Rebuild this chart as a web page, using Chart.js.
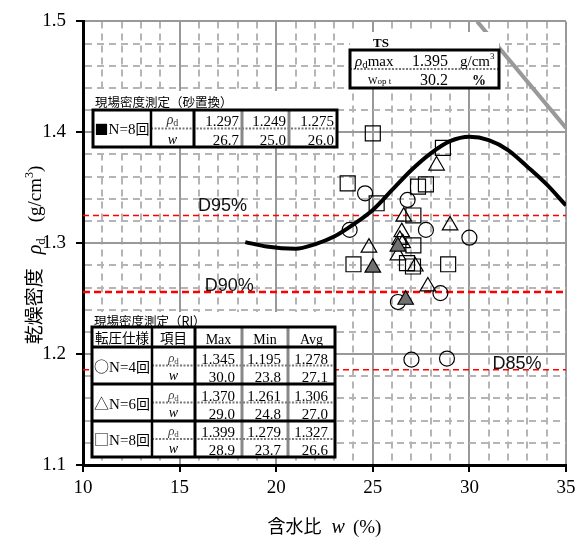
<!DOCTYPE html>
<html>
<head>
<meta charset="utf-8">
<script src="https://cdn.jsdelivr.net/npm/chart.js@4.4.1/dist/chart.umd.min.js"></script>
<style>
html, body { margin: 0; padding: 0; background: #fff; }
#wrap { width: 588px; height: 540px; position: relative; }
</style>
</head>
<body>
<div id="wrap"><canvas id="chart"></canvas></div>
<script>
// 締固め曲線
const curveW   = [18.4, 19.5, 21.0, 22.0, 23.0, 24.0, 25.0, 26.0, 27.0, 28.0, 29.0, 30.0, 31.0, 32.0, 33.0, 34.0, 35.0];
const curveRho = [1.301, 1.297, 1.295, 1.299, 1.306, 1.317, 1.330, 1.348, 1.366, 1.381, 1.392, 1.396, 1.393, 1.384, 1.369, 1.353, 1.334];

// ゼロ空気間隙曲線（右上の灰色線）
const zavW   = [30.4, 35.0];
const zavRho = [1.500, 1.404];

// RI 測定 N=4回（○）
const n4W   = [24.6, 26.8, 23.8, 27.75, 30.0, 28.5, 26.3, 27.0, 28.84];
const n4Rho = [1.345, 1.339, 1.312, 1.312, 1.305, 1.255, 1.247, 1.195, 1.196];

// RI 測定 N=6回（△）
const n6W   = [28.3, 26.6, 29.0, 26.5, 26.4, 26.55, 26.3, 24.8, 27.2, 27.85];
const n6Rho = [1.370, 1.324, 1.316, 1.310, 1.303, 1.300, 1.289, 1.296, 1.279, 1.261];

// RI 測定 N=8回（□）
const n8W   = [25.0, 28.63, 23.7, 27.34, 27.75, 25.2, 27.1, 27.1, 24.0, 26.77, 27.08, 28.9];
const n8Rho = [1.399, 1.386, 1.354, 1.351, 1.353, 1.336, 1.325, 1.298, 1.281, 1.282, 1.279, 1.281];

// 砂置換 N=8回（■）
const sandW   = [25.0, 26.3, 26.7];
const sandRho = [1.278, 1.297, 1.249];

// 管理基準線
const dLabels = ['D95%', 'D90%', 'D85%'];
const dValues = [1.325, 1.256, 1.186];
const dLabelW = [15.95, 16.3, 31.2];

// 表の値
const tsRows = [['1.395', 'g/cm'], ['30.2', '%']];
const sandRhoRow = ['1.297', '1.249', '1.275'];
const sandWRow   = ['26.7', '25.0', '26.0'];
const riHeader = ['Max', 'Min', 'Avg'];
const riLabels = ['○', '△', '□'];
const riCounts = ['N=4', 'N=6', 'N=8'];
const riRho = [['1.345', '1.195', '1.278'], ['1.370', '1.261', '1.306'], ['1.399', '1.279', '1.327']];
const riW   = [['30.0', '23.8', '27.1'], ['29.0', '24.8', '27.0'], ['28.9', '23.7', '26.6']];

const SERIF = '"Liberation Serif", "Times New Roman", serif';
const SANS = '"Liberation Sans", Arial, sans-serif';
const CJK = '"Noto Sans CJK JP", sans-serif';

const pts = (xs, ys) => xs.map((x, i) => ({x: x, y: ys[i]}));
const isMajorX = v => Math.abs(v / 5 - Math.round(v / 5)) < 1e-6;
const isMajorY = v => Math.abs(v * 10 - Math.round(v * 10)) < 1e-6;

// 複数フォントの文字列を描く
function runsWidth(ctx, runs) {
    let w = 0;
    runs.forEach(r => { ctx.font = r.font; w += ctx.measureText(r.t).width + (r.gap || 0); });
    return w;
}
function drawRuns(ctx, runs, x, y, align) {
    const w = runsWidth(ctx, runs);
    let cx = align === 'center' ? x - w / 2 : align === 'right' ? x - w : x;
    ctx.textAlign = 'left';
    ctx.textBaseline = 'alphabetic';
    runs.forEach(r => {
        ctx.font = r.font;
        ctx.fillStyle = r.color || '#000';
        ctx.fillText(r.t, cx, y + (r.dy || 0));
        cx += ctx.measureText(r.t).width + (r.gap || 0);
    });
}
function line(ctx, x1, y1, x2, y2, color, width, dash) {
    ctx.save();
    ctx.strokeStyle = color;
    ctx.lineWidth = width;
    ctx.setLineDash(dash || []);
    ctx.beginPath();
    ctx.moveTo(x1, y1);
    ctx.lineTo(x2, y2);
    ctx.stroke();
    ctx.restore();
}
const rhoRuns = (size, color) => [
    {t: 'ρ', font: 'italic ' + size + 'px ' + SERIF, color: color},
    {t: 'd', font: Math.round(size * 0.7) + 'px ' + SERIF, dy: 2, color: color}
];

// 砂置換の表
function drawSandTable(ctx) {
    const cx = [93, 151, 194, 242, 289, 337];
    const top = 110, mid = 128.5, bot = 147;
    ctx.fillStyle = '#fff';
    ctx.fillRect(93, 91, 244, 56);
    ctx.font = '12.5px ' + CJK;
    ctx.fillStyle = '#000';
    ctx.textBaseline = 'middle';
    ctx.textAlign = 'left';
    ctx.fillText('現場密度測定（砂置換）', 95, 102);

    line(ctx, cx[1], mid, cx[5], mid, '#777', 2, [2, 1.5]);
    line(ctx, cx[3], top, cx[3], bot, '#888', 3);
    line(ctx, cx[4], top, cx[4], bot, '#888', 3);
    line(ctx, cx[1], top, cx[1], bot, '#000', 2.5);
    line(ctx, cx[2], top, cx[2], bot, '#000', 3);
    ctx.lineWidth = 3;
    ctx.strokeStyle = '#000';
    ctx.strokeRect(cx[0], top, cx[5] - cx[0], bot - top);

    drawRuns(ctx, [
        {t: '■', font: '14px ' + CJK},
        {t: 'N=8', font: '15px ' + SERIF},
        {t: '回', font: '14px ' + CJK}
    ], (cx[0] + cx[1]) / 2, 134, 'center');
    drawRuns(ctx, rhoRuns(14, '#333'), (cx[1] + cx[2]) / 2, 124, 'center');
    drawRuns(ctx, [{t: 'w', font: 'italic 14px ' + SERIF}], (cx[1] + cx[2]) / 2, 144, 'center');
    for (let i = 0; i < 3; i++) {
        drawRuns(ctx, [{t: sandRhoRow[i], font: '15px ' + SERIF}], cx[i + 3] - 3, 126, 'right');
        drawRuns(ctx, [{t: sandWRow[i], font: '15px ' + SERIF}], cx[i + 3] - 3, 145, 'right');
    }
}

// TS の表
function drawTsTable(ctx) {
    const l = 350, r = 499, top = 50, mid = 69, bot = 88;
    ctx.fillStyle = '#fff';
    ctx.fillRect(l, 32, r - l, 56);
    drawRuns(ctx, [{t: 'TS', font: 'bold 13px ' + SERIF}], 373, 47, 'left');
    line(ctx, l, mid, r, mid, '#777', 2, [2, 1.5]);
    ctx.lineWidth = 3;
    ctx.strokeStyle = '#000';
    ctx.strokeRect(l, top, r - l, bot - top);

    drawRuns(ctx, rhoRuns(15).concat([{t: 'max', font: '15px ' + SERIF}]), 355, 66, 'left');
    drawRuns(ctx, [{t: tsRows[0][0], font: '16px ' + SERIF}], 448, 66, 'right');
    drawRuns(ctx, [
        {t: tsRows[0][1], font: '15px ' + SERIF},
        {t: '3', font: '9px ' + SERIF, dy: -7}
    ], 460, 66, 'left');
    drawRuns(ctx, [
        {t: 'W', font: '10px ' + SERIF},
        {t: 'op t', font: '9px ' + SERIF}
    ], 368, 84, 'left');
    drawRuns(ctx, [{t: tsRows[1][0], font: '16px ' + SERIF}], 448, 85, 'right');
    drawRuns(ctx, [{t: tsRows[1][1], font: 'bold 14px ' + SERIF}], 472, 85, 'left');
}

// RI の表
function drawRiTable(ctx) {
    const cx = [92, 152, 195, 242, 288, 335];
    const top = 327;
    const groups = [347, 384, 421, 457];
    ctx.fillStyle = '#fff';
    ctx.fillRect(92, 312, 243, 145);
    ctx.font = '12.5px ' + CJK;
    ctx.fillStyle = '#000';
    ctx.textBaseline = 'middle';
    ctx.textAlign = 'left';
    ctx.fillText('現場密度測定（RI）', 94, 321);

    for (let g = 0; g < 3; g++) {
        const m = (groups[g] + groups[g + 1]) / 2;
        line(ctx, cx[1], m, cx[5], m, '#777', 2, [2, 1.5]);
    }
    line(ctx, cx[3], top, cx[3], groups[3], '#888', 3);
    line(ctx, cx[4], top, cx[4], groups[3], '#888', 3);
    line(ctx, cx[1], top, cx[1], groups[3], '#000', 2.5);
    line(ctx, cx[2], top, cx[2], groups[3], '#000', 3);
    for (let g = 0; g < 3; g++) line(ctx, cx[0], groups[g], cx[5], groups[g], '#000', 3);
    ctx.lineWidth = 3;
    ctx.strokeStyle = '#000';
    ctx.strokeRect(cx[0], top, cx[5] - cx[0], groups[3] - top);

    drawRuns(ctx, [{t: '転圧仕様', font: '13.5px ' + CJK}], (cx[0] + cx[1]) / 2, 343, 'center');
    drawRuns(ctx, [{t: '項目', font: '13.5px ' + CJK}], (cx[1] + cx[2]) / 2, 343, 'center');
    for (let i = 0; i < 3; i++) {
        drawRuns(ctx, [{t: riHeader[i], font: '14px ' + SERIF}], (cx[i + 2] + cx[i + 3]) / 2, 344, 'center');
    }
    for (let g = 0; g < 3; g++) {
        const m = (groups[g] + groups[g + 1]) / 2;
        drawRuns(ctx, [
            {t: riLabels[g], font: '15px ' + CJK},
            {t: riCounts[g], font: '15px ' + SERIF},
            {t: '回', font: '14px ' + CJK}
        ], (cx[0] + cx[1]) / 2, m + 6, 'center');
        drawRuns(ctx, rhoRuns(13, '#444'), (cx[1] + cx[2]) / 2, m - 4, 'center');
        drawRuns(ctx, [{t: 'w', font: 'italic 14px ' + SERIF}], (cx[1] + cx[2]) / 2, groups[g + 1] - 4, 'center');
        for (let i = 0; i < 3; i++) {
            drawRuns(ctx, [{t: riRho[g][i], font: '15px ' + SERIF}], cx[i + 3] - 7, m - 2, 'right');
            drawRuns(ctx, [{t: riW[g][i], font: '15px ' + SERIF}], cx[i + 3] - 7, groups[g + 1] - 2, 'right');
        }
    }
}

const annotate = {
    id: 'annotate',
    beforeDraw(chart) {
        const ctx = chart.ctx;
        ctx.save();
        ctx.fillStyle = '#fff';
        ctx.fillRect(0, 0, chart.width, chart.height);
        ctx.restore();
    },
    afterDraw(chart) {
        const ctx = chart.ctx;
        const xs = chart.scales.x, ys = chart.scales.y;
        const area = chart.chartArea;
        ctx.save();

        // 基準線ラベル
        const dBase = [4, 1, 1];
        dLabels.forEach((t, i) => {
            drawRuns(ctx, [{t: t, font: '18px ' + SANS, color: '#111'}],
                xs.getPixelForValue(dLabelW[i]), ys.getPixelForValue(dValues[i]) - dBase[i], 'left');
        });

        // 軸タイトル
        drawRuns(ctx, [
            {t: '含水比', font: '18px ' + CJK, gap: 10},
            {t: 'w', font: 'italic 20px ' + SERIF, gap: 8},
            {t: '(%)', font: '19px ' + SERIF}
        ], (area.left + area.right) / 2, 533, 'center');

        ctx.save();
        ctx.translate(0, 255);
        ctx.rotate(-Math.PI / 2);
        drawRuns(ctx, [
            {t: '乾燥密度', font: '19px ' + CJK, gap: 14},
            {t: 'ρ', font: 'italic 20px ' + SERIF},
            {t: 'd', font: '13px ' + SERIF, dy: 4, gap: 16},
            {t: '(g/cm', font: '19px ' + SERIF},
            {t: '3', font: '12px ' + SERIF, dy: -8},
            {t: ')', font: '19px ' + SERIF}
        ], 0, 41, 'center');
        ctx.restore();

        drawTsTable(ctx);
        drawSandTable(ctx);
        drawRiTable(ctx);
        ctx.restore();
    }
};

const openPoint = (data, style, radius) => ({
    data: data,
    pointStyle: style,
    pointRadius: radius,
    pointBorderWidth: 1.2,
    pointBorderColor: '#000',
    pointBackgroundColor: 'rgba(0,0,0,0)',
    showLine: false
});

const refLine = (v, width, dash) => ({
    data: [{x: 10, y: v}, {x: 35, y: v}],
    showLine: true,
    borderColor: '#ff0000',
    borderWidth: width,
    borderDash: dash,
    pointRadius: 0
});

new Chart(document.getElementById('chart'), {
    type: 'scatter',
    data: {
        datasets: [
            {
                data: pts(curveW, curveRho),
                showLine: true,
                borderColor: '#000',
                borderWidth: 4,
                cubicInterpolationMode: 'monotone',
                pointRadius: 0
            },
            {
                data: pts(sandW, sandRho),
                pointStyle: 'triangle',
                pointRadius: 9,
                pointBorderWidth: 1.2,
                pointBorderColor: '#000',
                pointBackgroundColor: '#707070',
                showLine: false
            },
            openPoint(pts(n6W, n6Rho), 'triangle', 9),
            openPoint(pts(n8W, n8Rho), 'rect', 10.6),
            openPoint(pts(n4W, n4Rho), 'circle', 7.5),
            refLine(dValues[0], 1.5, [6, 4]),
            refLine(dValues[1], 2.5, [7, 4]),
            refLine(dValues[2], 1.5, [6, 4]),
            {
                data: pts(zavW, zavRho),
                showLine: true,
                borderColor: '#999',
                borderWidth: 4,
                pointRadius: 0
            }
        ]
    },
    options: {
        responsive: true,
        maintainAspectRatio: false,
        animation: false,
        layout: { padding: { top: 21, right: 22, left: 0, bottom: 0 } },
        plugins: {
            legend: { display: false },
            tooltip: { enabled: false }
        },
        scales: {
            x: {
                type: 'linear',
                min: 10,
                max: 35,
                afterFit: s => { s.height = 75; },
                ticks: {
                    stepSize: 1,
                    autoSkip: false,
                    maxRotation: 0,
                    padding: 5,
                    color: '#000',
                    font: { family: SERIF, size: 19 },
                    callback: v => isMajorX(v) ? String(Math.round(v)) : ''
                },
                grid: {
                    color: c => c.tick && !isMajorX(c.tick.value) ? '#b5b5b5' : '#999',
                    lineWidth: 2,
                    tickLength: 7,
                    tickWidth: 2,
                    tickColor: c => c.tick && isMajorX(c.tick.value) ? '#000' : 'rgba(0,0,0,0)'
                },
                border: {
                    color: '#000',
                    width: 3,
                    dash: c => c.tick && !isMajorX(c.tick.value) ? [7, 5] : []
                }
            },
            y: {
                type: 'linear',
                min: 1.1,
                max: 1.5,
                afterFit: s => { s.width = 83; },
                ticks: {
                    stepSize: 0.02,
                    autoSkip: false,
                    padding: 10,
                    color: '#000',
                    font: { family: SERIF, size: 19 },
                    callback: v => isMajorY(v) ? v.toFixed(1) : ''
                },
                grid: {
                    color: c => c.tick && !isMajorY(c.tick.value) ? '#b5b5b5' : '#999',
                    lineWidth: 2,
                    tickLength: 7,
                    tickWidth: 2,
                    tickColor: c => c.tick && isMajorY(c.tick.value) ? '#000' : 'rgba(0,0,0,0)'
                },
                border: {
                    color: '#000',
                    width: 3,
                    dash: c => c.tick && !isMajorY(c.tick.value) ? [7, 5] : []
                }
            }
        }
    },
    plugins: [annotate]
});
</script>
</body>
</html>
